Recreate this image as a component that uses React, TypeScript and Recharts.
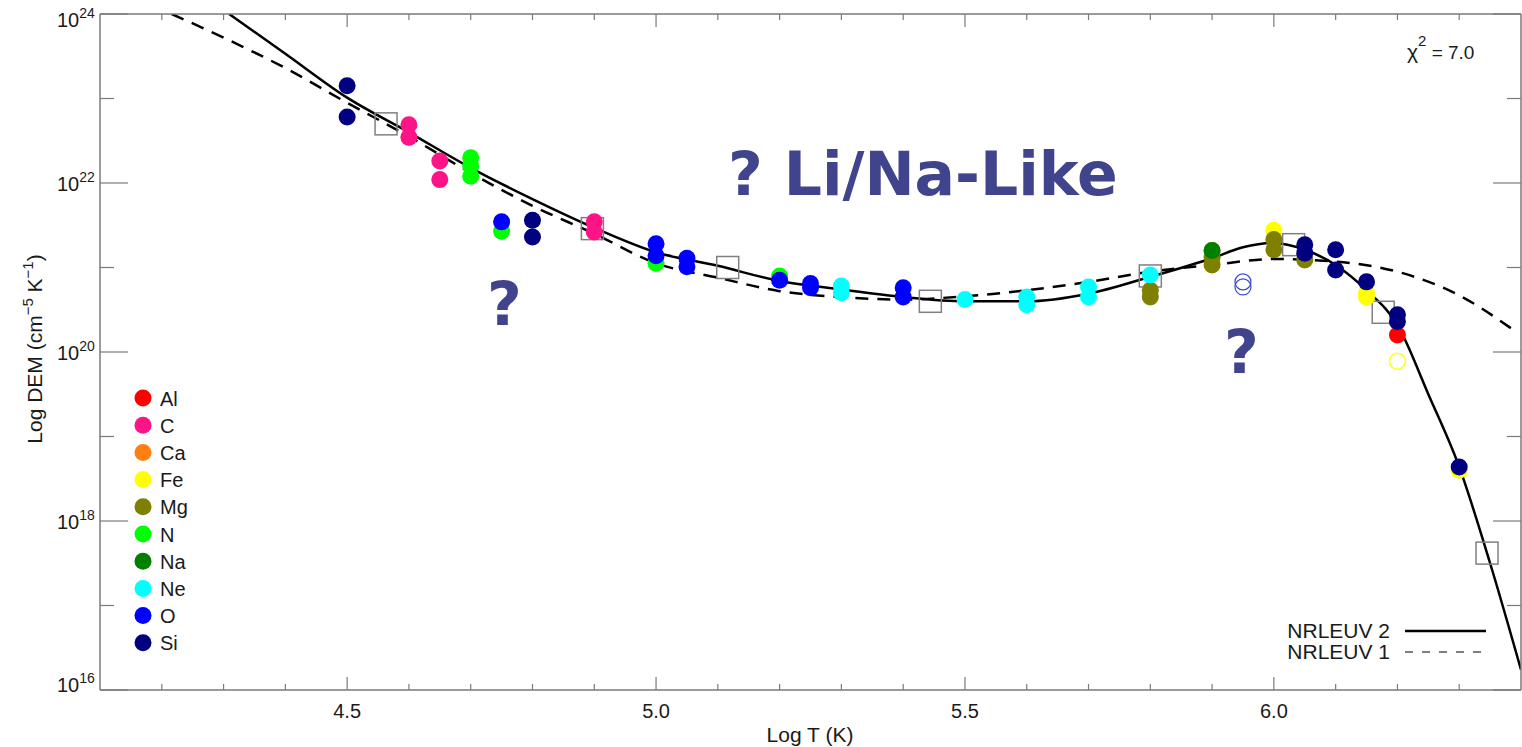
import React from "react";
import { ComposedChart, Line, Scatter, XAxis, YAxis } from "recharts";

// ticks
const X_TICKS = [4.2, 4.3, 4.4, 4.5, 4.6, 4.7, 4.8, 4.9, 5.0, 5.1, 5.2, 5.3, 5.4, 5.5, 5.6, 5.7, 5.8, 5.9, 6.0, 6.1, 6.2, 6.3];
const Y_TICKS = [16, 17, 18, 19, 20, 21, 22, 23, 24];

// element legend
const ELEMENTS = ["Al", "C", "Ca", "Fe", "Mg", "N", "Na", "Ne", "O", "Si"];
const COLORS = ["#ff0000", "#ff1488", "#ff8010", "#ffff00", "#808000", "#00ff00", "#008000", "#00ffff", "#0000ff", "#000080"];

// observed points, [log T, log DEM]
const AL = [[6.2, 20.2]];
const C = [[4.6, 22.69], [4.6, 22.54], [4.65, 22.26], [4.65, 22.04], [4.9, 21.54], [4.9, 21.42]];
const CA = [[5.9, 21.2]];
const FE = [[6.0, 21.44], [6.15, 20.7], [6.15, 20.65], [6.3, 18.6]];
const MG = [[5.8, 20.73], [5.8, 20.65], [5.9, 21.12], [5.9, 21.03], [6.0, 21.33], [6.0, 21.21], [6.05, 21.09]];
const N = [[4.7, 22.3], [4.7, 22.2], [4.7, 22.08], [4.75, 21.43], [5.0, 21.05], [5.2, 20.9]];
const NA = [[5.9, 21.2]];
const NE = [[5.3, 20.78], [5.3, 20.7], [5.5, 20.62], [5.6, 20.65], [5.6, 20.56], [5.7, 20.77], [5.7, 20.65], [5.8, 20.91]];
const O = [[4.75, 21.54], [5.0, 21.28], [5.0, 21.14], [5.05, 21.11], [5.05, 21.01], [5.2, 20.85], [5.25, 20.81], [5.25, 20.76], [5.4, 20.76], [5.4, 20.65]];
const SI = [[4.5, 23.15], [4.5, 22.78], [4.8, 21.56], [4.8, 21.36], [6.05, 21.27], [6.05, 21.17], [6.1, 21.21], [6.1, 20.97], [6.15, 20.83], [6.2, 20.44], [6.2, 20.36], [6.3, 18.64]];
const POINTS = [AL, C, CA, FE, MG, N, NA, NE, O, SI];

// open symbols
const O_OPEN = [[5.95, 20.83], [5.95, 20.77]];
const FE_OPEN = [[6.2, 19.89]];

// squares
const SQUARES = [[4.563, 22.7], [4.897, 21.46], [5.116, 21.0], [5.444, 20.6], [5.8, 20.9], [6.032, 21.27], [6.177, 20.47], [6.345, 17.62]];

// DEM curves
const NRLEUV2 = [
  [4.309, 24.0], [4.4, 23.53], [4.5, 23.01], [4.6, 22.6], [4.7, 22.18], [4.8, 21.81], [4.9, 21.47],
  [5.0, 21.18], [5.1, 21.02], [5.2, 20.84], [5.3, 20.74], [5.4, 20.65], [5.5, 20.6], [5.6, 20.6],
  [5.7, 20.69], [5.8, 20.89], [5.9, 21.11], [5.95, 21.24], [6.0, 21.29], [6.05, 21.21], [6.1, 21.03],
  [6.15, 20.73], [6.2, 20.32], [6.25, 19.5], [6.3, 18.64], [6.35, 17.5], [6.4, 16.24],
];
const NRLEUV1 = [
  [4.216, 24.0], [4.3, 23.72], [4.4, 23.36], [4.5, 22.95], [4.6, 22.55], [4.7, 22.12], [4.8, 21.73],
  [4.9, 21.4], [5.0, 21.05], [5.1, 20.88], [5.2, 20.72], [5.3, 20.65], [5.4, 20.62], [5.5, 20.66],
  [5.6, 20.73], [5.7, 20.83], [5.8, 20.95], [5.9, 21.03], [6.0, 21.1], [6.1, 21.07], [6.2, 20.95],
  [6.3, 20.67], [6.388, 20.26],
];

const toRows = (arr: number[][]) => arr.map(([x, y]) => ({ x, y }));

const AXIS = "#7a7a7a";
const TXT = "#1a1a1a";
const FONT = "'Liberation Sans', Arial, Helvetica, sans-serif";
const ANNOT = "#40448c";

const isHalf = (v: number) => Math.abs(v * 2 - Math.round(v * 2)) < 1e-6;

const BottomTick = ({ x, y, payload }: any) => {
  const major = isHalf(payload.value);
  return (
    <g>
      <line x1={x} x2={x} y1={y} y2={y - (major ? 13 : 6)} stroke={AXIS} strokeWidth={1.2} />
      {major && (
        <text x={x} y={y + 28} textAnchor="middle" fontSize={20} fontFamily={FONT} fill={TXT}>
          {payload.value.toFixed(1)}
        </text>
      )}
    </g>
  );
};

const TopTick = ({ x, y, payload }: any) => {
  const major = isHalf(payload.value);
  return <line x1={x} x2={x} y1={y} y2={y + (major ? 13 : 6)} stroke={AXIS} strokeWidth={1.2} />;
};

const LeftTick = ({ x, y, payload }: any) => {
  const v = payload.value;
  const major = v % 2 === 0;
  const dy = v === 24 ? 13 : v === 16 ? 2 : 8;
  return (
    <g>
      <line x1={x} x2={x + (major ? 28 : 14)} y1={y} y2={y} stroke={AXIS} strokeWidth={1.2} />
      {major && (
        <text x={x - 43} y={y + dy} fontSize={20} fontFamily={FONT} fill={TXT}>
          10
          <tspan dy={-9} fontSize={14}>
            {v}
          </tspan>
        </text>
      )}
    </g>
  );
};

const RightTick = ({ x, y, payload }: any) => {
  const major = payload.value % 2 === 0;
  return <line x1={x} x2={x - (major ? 28 : 14)} y1={y} y2={y} stroke={AXIS} strokeWidth={1.2} />;
};

const dot = (color: string) => (p: any) => <circle cx={p.cx} cy={p.cy} r={8.5} fill={color} />;
const ring = (color: string, w: number) => (p: any) =>
  <circle cx={p.cx} cy={p.cy} r={8} fill="none" stroke={color} strokeWidth={w} />;
const square = (p: any) => (
  <rect x={p.cx - 11} y={p.cy - 11} width={22} height={22} fill="none" stroke="#808080" strokeWidth={1.5} />
);

export default function App() {
  const ids = { xAxisId: "b", yAxisId: "l" };
  return (
    <div style={{ position: "absolute", left: 0, top: 0, width: 1522, height: 747, background: "#fff" }}>
      <ComposedChart width={1522} height={747} margin={{ top: 13, right: 0, bottom: 0, left: 0 }}>
        <XAxis
          xAxisId="b"
          type="number"
          dataKey="x"
          domain={[4.1, 6.4]}
          ticks={X_TICKS}
          allowDataOverflow
          height={57}
          tickSize={0}
          tickMargin={0}
          tickLine={false}
          tick={<BottomTick />}
          axisLine={{ stroke: AXIS, strokeWidth: 1.5 }}
        />
        <XAxis
          xAxisId="t"
          orientation="top"
          type="number"
          dataKey="x"
          domain={[4.1, 6.4]}
          ticks={X_TICKS}
          allowDataOverflow
          height={1}
          tickSize={0}
          tickMargin={0}
          tickLine={false}
          tick={<TopTick />}
          axisLine={{ stroke: AXIS, strokeWidth: 1.5 }}
        />
        <YAxis
          yAxisId="l"
          type="number"
          dataKey="y"
          domain={[16, 24]}
          ticks={Y_TICKS}
          allowDataOverflow
          width={100}
          tickSize={0}
          tickMargin={0}
          tickLine={false}
          tick={<LeftTick />}
          axisLine={{ stroke: AXIS, strokeWidth: 1.5 }}
        />
        <YAxis
          yAxisId="r"
          orientation="right"
          type="number"
          dataKey="y"
          domain={[16, 24]}
          ticks={Y_TICKS}
          allowDataOverflow
          width={1}
          tickSize={0}
          tickMargin={0}
          tickLine={false}
          tick={<RightTick />}
          axisLine={{ stroke: AXIS, strokeWidth: 1.5 }}
        />

        <Line {...ids} data={toRows(NRLEUV1)} dataKey="y" type="monotone" stroke="#000" strokeWidth={2.5}
          strokeDasharray="13 9" dot={false} isAnimationActive={false} />
        <Line {...ids} data={toRows(NRLEUV2)} dataKey="y" type="monotone" stroke="#000" strokeWidth={2.5}
          dot={false} isAnimationActive={false} />

        <Scatter {...ids} data={toRows(SQUARES)} dataKey="y" shape={square} isAnimationActive={false} />
        <Scatter {...ids} data={toRows(O_OPEN)} dataKey="y" shape={ring("#3848d0", 1.2)} isAnimationActive={false} />
        <Scatter {...ids} data={toRows(FE_OPEN)} dataKey="y" shape={ring("#ffff20", 1.6)} isAnimationActive={false} />
        {POINTS.map((pts, i) => (
          <Scatter key={ELEMENTS[i]} {...ids} name={ELEMENTS[i]} data={toRows(pts)} dataKey="y"
            shape={dot(COLORS[i])} isAnimationActive={false} />
        ))}
      </ComposedChart>

      <svg width={1522} height={747} style={{ position: "absolute", left: 0, top: 0, pointerEvents: "none" }}>
        <g fontFamily={FONT} fill={TXT}>
          <text x={810} y={742} textAnchor="middle" fontSize={21}>Log T (K)</text>
          <text transform="translate(42,349) rotate(-90)" textAnchor="middle" fontSize={21}>
            Log DEM (cm<tspan dy={-9} fontSize={15}>−5</tspan>
            <tspan dy={9}> K</tspan>
            <tspan dy={-9} fontSize={15}>−1</tspan>
            <tspan dy={9}>)</tspan>
          </text>
          <text x={1407} y={59} fontSize={21}>
            χ<tspan dy={-13} fontSize={15}>2</tspan>
            <tspan dy={13} fontSize={19}> = 7.0</tspan>
          </text>

          {ELEMENTS.map((el, i) => (
            <g key={el}>
              <circle cx={143} cy={398 + i * 27.2} r={8.5} fill={COLORS[i]} />
              <text x={160} y={398 + i * 27.2 + 7.5} fontSize={20}>{el}</text>
            </g>
          ))}

          <text x={1390} y={638} textAnchor="end" fontSize={21}>NRLEUV 2</text>
          <line x1={1405} x2={1486} y1={631} y2={631} stroke="#000" strokeWidth={2.5} />
          <text x={1390} y={659} textAnchor="end" fontSize={21}>NRLEUV 1</text>
          <line x1={1405} x2={1486} y1={652} y2={652} stroke="#000" strokeWidth={1.2} strokeDasharray="8 9" />
        </g>

        <g fontFamily="'DejaVu Sans', Verdana, sans-serif" fontWeight="bold" fill={ANNOT} fontSize={60}>
          <text x={728} y={195}>? Li/Na-Like</text>
          <text x={487} y={325}>?</text>
          <text x={1224} y={373}>?</text>
        </g>
      </svg>
    </div>
  );
}
